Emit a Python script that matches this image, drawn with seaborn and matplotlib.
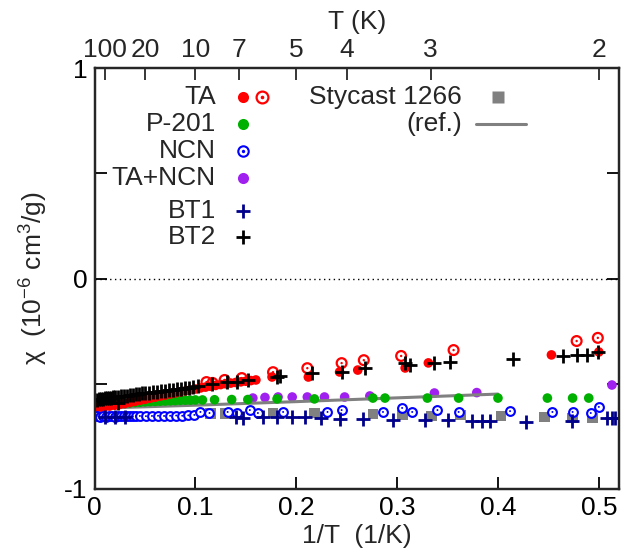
import numpy as np
import pandas as pd
import matplotlib
matplotlib.use("Agg")
import matplotlib.pyplot as plt
import seaborn as sns

# ---------------- data ----------------
ta_x = [0.002, 0.006, 0.010, 0.015, 0.020, 0.025, 0.030, 0.035, 0.040, 0.045, 0.050,
        0.055, 0.060, 0.065, 0.070, 0.075, 0.080, 0.085, 0.090, 0.095, 0.100, 0.105,
        0.110, 0.115, 0.120, 0.125, 0.130, 0.135, 0.140, 0.145, 0.150, 0.155, 0.160,
        0.176, 0.212, 0.243, 0.261, 0.308, 0.331, 0.453, 0.500]
ta_y = [-0.612, -0.611, -0.609, -0.606, -0.602, -0.598, -0.594, -0.589, -0.584, -0.579,
        -0.574, -0.569, -0.564, -0.559, -0.554, -0.549, -0.544, -0.539, -0.534, -0.529,
        -0.525, -0.520, -0.516, -0.512, -0.508, -0.504, -0.500, -0.497, -0.494, -0.491,
        -0.488, -0.485, -0.482, -0.468, -0.468, -0.444, -0.435, -0.425, -0.401, -0.363,
        -0.349]

ta_open_x = [0.111, 0.117, 0.129, 0.146, 0.177, 0.211, 0.245, 0.267, 0.304, 0.356, 0.478, 0.499]
ta_open_y = [-0.492, -0.496, -0.482, -0.473, -0.445, -0.426, -0.402, -0.388, -0.368, -0.340,
             -0.297, -0.282]

p201_x = [0.002, 0.005, 0.008, 0.012, 0.016, 0.020, 0.025, 0.030, 0.035, 0.040, 0.045,
          0.050, 0.055, 0.060, 0.065, 0.070, 0.075, 0.080, 0.085, 0.090, 0.095, 0.100,
          0.107, 0.119, 0.136, 0.152, 0.181, 0.218, 0.276, 0.288, 0.330, 0.361, 0.400,
          0.449, 0.474, 0.490]
p201_y = [-0.606, -0.605, -0.603, -0.601, -0.599, -0.597, -0.595, -0.593, -0.591, -0.589,
          -0.588, -0.586, -0.585, -0.584, -0.583, -0.582, -0.581, -0.580, -0.579, -0.578,
          -0.578, -0.577, -0.577, -0.576, -0.575, -0.575, -0.572, -0.572, -0.568, -0.568,
          -0.568, -0.568, -0.568, -0.568, -0.568, -0.568]

ncn_x = [0.002, 0.005, 0.008, 0.011, 0.014, 0.017, 0.020, 0.023, 0.026, 0.029, 0.032,
         0.035, 0.038, 0.041, 0.045, 0.051, 0.057, 0.063, 0.069, 0.075, 0.081, 0.087,
         0.093, 0.099, 0.105, 0.114, 0.132, 0.141, 0.154, 0.162, 0.187, 0.231, 0.245,
         0.286, 0.305, 0.315, 0.340, 0.361, 0.412, 0.454, 0.474, 0.492, 0.500]
ncn_y = [-0.655, -0.656, -0.655, -0.657, -0.655, -0.654, -0.656, -0.655, -0.654, -0.655,
         -0.655, -0.654, -0.655, -0.654, -0.653, -0.654, -0.653, -0.652, -0.653, -0.652,
         -0.651, -0.652, -0.650, -0.648, -0.634, -0.639, -0.634, -0.639, -0.625, -0.639,
         -0.634, -0.634, -0.625, -0.634, -0.615, -0.634, -0.625, -0.634, -0.630, -0.634,
         -0.634, -0.639, -0.610]

tancn_x = [0.157, 0.169, 0.182, 0.196, 0.211, 0.228, 0.248, 0.273, 0.337, 0.379, 0.513]
tancn_y = [-0.568, -0.565, -0.563, -0.563, -0.563, -0.563, -0.563, -0.558, -0.544, -0.542,
           -0.506]

bt1_x = [0.010, 0.020, 0.030, 0.140, 0.147, 0.167, 0.181, 0.196, 0.209, 0.225,
         0.243, 0.266, 0.296, 0.328, 0.350, 0.374, 0.384, 0.392, 0.428, 0.473, 0.508,
         0.513, 0.516]
bt1_y = [-0.656, -0.657, -0.656, -0.658, -0.662, -0.658, -0.658, -0.658, -0.658,
         -0.662, -0.667, -0.667, -0.672, -0.672, -0.672, -0.677, -0.677, -0.677, -0.681,
         -0.677, -0.663, -0.663, -0.663]

bt2_x = [0.002, 0.004, 0.006, 0.008, 0.010, 0.012, 0.014, 0.016, 0.018, 0.020, 0.023,
         0.026, 0.029, 0.032, 0.035, 0.038, 0.041, 0.044, 0.047, 0.050, 0.054, 0.058,
         0.062, 0.066, 0.070, 0.074, 0.078, 0.082, 0.086, 0.090, 0.094, 0.098, 0.023,
         0.103, 0.116, 0.131, 0.141, 0.152, 0.181, 0.184, 0.216, 0.245, 0.268, 0.308,
         0.313, 0.337, 0.352, 0.415, 0.464, 0.478, 0.488, 0.499]
bt2_y = [-0.575, -0.574, -0.572, -0.571, -0.570, -0.568, -0.567, -0.566, -0.565, -0.563,
         -0.561, -0.559, -0.558, -0.556, -0.554, -0.552, -0.550, -0.548, -0.546, -0.545,
         -0.542, -0.540, -0.538, -0.535, -0.533, -0.531, -0.528, -0.526, -0.524, -0.521,
         -0.519, -0.517, -0.590,
         -0.510, -0.500, -0.494, -0.492, -0.484, -0.468, -0.465, -0.449, -0.444, -0.425,
         -0.401, -0.411, -0.401, -0.397, -0.382, -0.368, -0.363, -0.363, -0.349]

sty_x = [0.115, 0.130, 0.177, 0.218, 0.276, 0.305, 0.334, 0.363, 0.403, 0.446, 0.474, 0.494]
sty_y = [-0.642, -0.642, -0.639, -0.639, -0.644, -0.648, -0.653, -0.648, -0.653, -0.658,
         -0.663, -0.663]

ref_x = [0.0, 0.1, 0.2, 0.3, 0.4]
ref_y = [-0.617, -0.602, -0.585, -0.567, -0.549]

top_T = [100, 20, 10, 7, 5, 4, 3, 2]
bottom_ticks = [0, 0.1, 0.2, 0.3, 0.4, 0.5]

# ---------------- style ----------------
sns.set_style("ticks")
plt.rcParams["font.family"] = ["Liberation Sans", "DejaVu Sans"]
plt.rcParams["mathtext.fontset"] = "custom"
plt.rcParams["mathtext.rm"] = "Liberation Sans"
plt.rcParams["mathtext.it"] = "Liberation Sans:italic"
plt.rcParams["mathtext.default"] = "regular"
FS = 19

RED = "#ff0000"
GREEN = "#00b000"
BLUE = "#0000ff"
PURPLE = "#a020f0"
NAVY = "#00008b"
GRAY = "#808080"

W, H = 638, 554
fig = plt.figure(figsize=(W / 100, H / 100), dpi=100)
L, R, T, B = 94.5, 619, 68, 489
ax = fig.add_axes([L / W, (H - B) / H, (R - L) / W, (B - T) / H])

ms_fill = 48
ms_open = 50

def df(x, y):
    return pd.DataFrame({"x": x, "y": y})

# draw order (later on top)
sns.scatterplot(data=df(sty_x, sty_y), x="x", y="y", ax=ax, marker="s", s=60,
                color=GRAY, edgecolor="none", zorder=3, legend=False)
sns.scatterplot(data=df(tancn_x, tancn_y), x="x", y="y", ax=ax, marker="o", s=ms_fill,
                color=PURPLE, edgecolor="none", zorder=4, legend=False)
sns.lineplot(data=df(ref_x, ref_y), x="x", y="y", ax=ax, color=GRAY, lw=2.2,
             zorder=5, legend=False)
sns.scatterplot(data=df(p201_x, p201_y), x="x", y="y", ax=ax, marker="o", s=ms_fill,
                color=GREEN, edgecolor="none", zorder=6, legend=False)
sns.scatterplot(data=df(ta_x, ta_y), x="x", y="y", ax=ax, marker="o", s=ms_fill,
                color=RED, edgecolor="none", zorder=7, legend=False)
sns.scatterplot(data=df(ta_open_x, ta_open_y), x="x", y="y", ax=ax, marker="o", s=ms_open,
                facecolor="none", edgecolor=RED, linewidth=1.6, zorder=8, legend=False)
sns.scatterplot(data=df(ta_open_x, ta_open_y), x="x", y="y", ax=ax, marker="o", s=3,
                color=RED, edgecolor="none", zorder=8, legend=False)
sns.scatterplot(data=df(ncn_x, ncn_y), x="x", y="y", ax=ax, marker="o", s=40,
                facecolor="white", edgecolor=BLUE, linewidth=1.5, zorder=9, legend=False)
sns.scatterplot(data=df(ncn_x, ncn_y), x="x", y="y", ax=ax, marker="o", s=2,
                color=BLUE, edgecolor="none", zorder=9, legend=False)
sns.scatterplot(data=df(bt1_x, bt1_y), x="x", y="y", ax=ax, marker="+", s=110,
                color=NAVY, linewidth=2.0, zorder=10, legend=False)
sns.scatterplot(data=df(bt2_x, bt2_y), x="x", y="y", ax=ax, marker="+", s=110,
                color="black", linewidth=2.0, zorder=11, legend=False)

ax.axhline(0, color="black", lw=1.0, ls=(0, (1, 2.5)), zorder=2)

ax.set_xlim(0, 0.52)
ax.set_ylim(-1, 1)
ax.set_xticks(bottom_ticks)
ax.set_xticklabels(["0", "0.1", "0.2", "0.3", "0.4", "0.5"])
ax.set_yticks([-1, -0.5, 0, 0.5, 1])
ax.set_yticklabels(["-1", "", "0", "", "1"])
ax.tick_params(axis="both", direction="in", length=8.5, width=1.3, labelsize=FS,
               pad=5, right=True, top=False, colors="black")
ax.set_xlabel("1/T  (1/K)", fontsize=FS, labelpad=3)
ax.set_ylabel(r"$\chi$  (10$^{-6}$ cm$^{3}$/g)", fontsize=FS, labelpad=10)
for sp in ax.spines.values():
    sp.set_linewidth(1.6)
    sp.set_color("black")
    sp.set_visible(True)

axt = ax.twiny()
axt.set_xlim(ax.get_xlim())
axt.set_xticks([1.0 / t for t in top_T])
axt.set_xticklabels([str(t) for t in top_T])
axt.tick_params(axis="x", direction="in", length=8.5, width=1.3, labelsize=FS, pad=4)
axt.set_xlabel("T (K)", fontsize=FS, labelpad=7)
for sp in axt.spines.values():
    sp.set_linewidth(1.6)

# ---------------- legend (manual, gnuplot style) ----------------
def fy(py):
    return (B - py) / (B - T)

def fx(px):
    return (px - L) / (R - L)

tx1 = fx(216)
mx1 = fx(243)
mx1b = fx(262)
rows = [("TA", 97), ("P-201", 124), ("NCN", 151), ("TA+NCN", 178), ("BT1", 211), ("BT2", 237)]
for lab, py in rows:
    ax.text(tx1, fy(py), lab, transform=ax.transAxes, ha="right", va="center", fontsize=FS)
kw = dict(transform=ax.transAxes, clip_on=False, zorder=20)
ax.plot([mx1], [fy(97)], marker="o", ms=8, color=RED, mec="none", ls="none", **kw)
ax.plot([mx1b], [fy(97)], marker="o", ms=8.5, mfc="none", mec=RED, mew=1.6, ls="none", **kw)
ax.plot([mx1b], [fy(97)], marker="o", ms=1.6, color=RED, ls="none", **kw)
ax.plot([mx1], [fy(124)], marker="o", ms=8, color=GREEN, mec="none", ls="none", **kw)
ax.plot([mx1], [fy(151)], marker="o", ms=7.5, mfc="white", mec=BLUE, mew=1.5, ls="none", **kw)
ax.plot([mx1], [fy(151)], marker="o", ms=1.4, color=BLUE, ls="none", **kw)
ax.plot([mx1], [fy(178)], marker="o", ms=8, color=PURPLE, mec="none", ls="none", **kw)
ax.plot([mx1], [fy(211)], marker="+", ms=10.5, color=NAVY, mew=2.0, ls="none", **kw)
ax.plot([mx1], [fy(237)], marker="+", ms=10.5, color="black", mew=2.0, ls="none", **kw)

tx2 = fx(462)
ax.text(tx2, fy(97), "Stycast 1266", transform=ax.transAxes, ha="right", va="center",
        fontsize=FS)
ax.text(tx2, fy(124), "(ref.)", transform=ax.transAxes, ha="right", va="center",
        fontsize=FS)
ax.plot([fx(498)], [fy(97)], marker="s", ms=8, color=GRAY, mec="none", ls="none", **kw)
ax.plot([fx(476), fx(526)], [fy(124), fy(124)], color=GRAY, lw=2.2, **kw)

fig.savefig("out.png", dpi=100)
